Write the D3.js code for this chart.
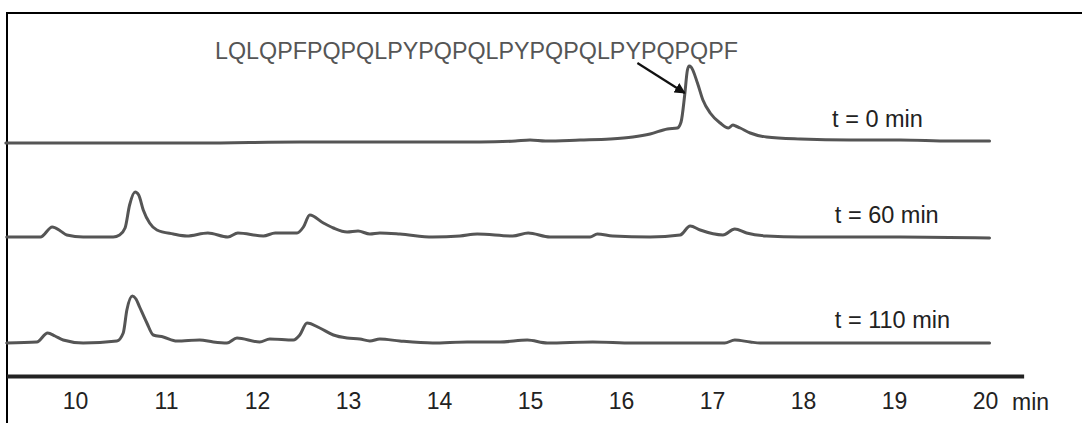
<!DOCTYPE html>
<html>
<head>
<meta charset="utf-8">
<script src="https://cdn.jsdelivr.net/npm/d3@7"></script>
<style>
  html, body { margin: 0; padding: 0; background: #fff; }
  svg { display: block; }
  text { font-family: "Liberation Sans", Arial, sans-serif; }
</style>
</head>
<body>
<svg id="chart" width="1082" height="423"></svg>
<script>
// HPLC chromatograms of the 33-mer peptide at three digestion times.
// Retention time in minutes, detector signal in arbitrary units above baseline.

const tickValues = [10, 11, 12, 13, 14, 15, 16, 17, 18, 19, 20];
const axisUnit = "min";
const peptide = "LQLQPFPQPQLPYPQPQLPYPQPQLPYPQPQPF";
const traceLabels = ["t = 0 min", "t = 60 min", "t = 110 min"];

const time0 = [9.24, 10.28, 11.37, 12.47, 13.57, 14.45, 14.84, 15.00, 15.17, 15.55, 15.88,
  16.13, 16.32, 16.51, 16.62, 16.66, 16.70, 16.73, 16.75, 16.77, 16.84, 16.90, 16.98,
  17.09, 17.18, 17.23, 17.26, 17.31, 17.42, 17.60, 17.97, 18.52, 19.07, 19.62, 20.05];
const signal0 = [0, 0, 0, 1, 1, 1, 2, 3, 2, 3, 4,
  6, 9, 14, 15, 21, 48, 73, 77, 76, 60, 43, 30,
  20, 15, 18, 17, 15, 10, 6, 4, 3, 3, 2, 2];

const time60 = [9.25, 9.62, 9.75, 9.84, 9.91, 10.09, 10.42, 10.49, 10.55, 10.60, 10.66, 10.70,
  10.75, 10.82, 10.90, 11.08, 11.23, 11.46, 11.68, 11.79, 12.07, 12.20, 12.44, 12.51, 12.58,
  12.73, 12.84, 12.99, 13.11, 13.24, 13.35, 13.57, 13.93, 14.23, 14.42, 14.81, 14.98, 15.22,
  15.66, 15.74, 15.91, 16.32, 16.65, 16.76, 16.87, 17.12, 17.25, 17.38, 17.60, 17.97, 19.07, 20.05];
const signal60 = [0, 0, 10, 6, 2, 0, 0, 2, 9, 32, 45, 42,
  27, 14, 7, 3, 1, 4, 0, 4, 1, 4, 4, 10, 22,
  14, 9, 5, 6, 3, 4, 3, 0, 1, 3, 1, 4, 0,
  0, 3, 1, 0, 2, 11, 7, 2, 8, 4, 1, 0, 0, -1];

const time110 = [9.25, 9.58, 9.70, 9.78, 9.87, 10.09, 10.46, 10.53, 10.57, 10.63, 10.67, 10.71,
  10.79, 10.86, 10.97, 11.12, 11.37, 11.52, 11.67, 11.78, 12.03, 12.14, 12.40, 12.47, 12.55,
  12.69, 12.84, 12.99, 13.13, 13.24, 13.35, 13.57, 13.93, 14.31, 14.67, 14.97, 15.19, 15.69,
  16.13, 16.87, 17.14, 17.25, 17.42, 17.53, 20.05];
const signal110 = [0, 1, 10, 7, 3, 0, 2, 10, 33, 47, 44, 36,
  20, 8, 6, 2, 3, 1, 0, 5, 1, 4, 3, 8, 20,
  15, 8, 5, 4, 2, 4, 2, 0, 1, 1, 3, 0, 1,
  0, 0, 0, 3, 1, 0, 0];

const traces = [
  { label: traceLabels[0], t: time0, s: signal0, offset: 233, labelAt: 18.32, labelY: 16 },
  { label: traceLabels[1], t: time60, s: signal60, offset: 139, labelAt: 18.35, labelY: 14 },
  { label: traceLabels[2], t: time110, s: signal110, offset: 33, labelAt: 18.35, labelY: 15 }
];

const svg = d3.select("#chart");

const x = d3.scaleLinear().domain([10, 20]).range([75, 985]);
const y = d3.scaleLinear().domain([0, 350]).range([376, 26]);

// Frame
svg.append("rect")
  .attr("x", 7).attr("y", 13)
  .attr("width", 1100).attr("height", 440)
  .attr("fill", "none").attr("stroke", "#000").attr("stroke-width", 2);

// Chromatogram traces
const line = d3.line()
  .x(d => x(d[0]))
  .y(d => y(d[1]))
  .curve(d3.curveMonotoneX);

traces.forEach(tr => {
  const pts = tr.t.map((t, i) => [t, tr.s[i] + tr.offset]);
  svg.append("path")
    .attr("d", line(pts))
    .attr("fill", "none")
    .attr("stroke", "#555")
    .attr("stroke-width", 3)
    .attr("stroke-linejoin", "round")
    .attr("stroke-linecap", "round");

  svg.append("text")
    .attr("x", x(tr.labelAt))
    .attr("y", y(tr.offset + tr.labelY))
    .attr("font-size", 23.5)
    .attr("fill", "#222")
    .text(tr.label);
});

// Peptide annotation with arrow to the intact peak
svg.append("defs").append("marker")
  .attr("id", "head")
  .attr("viewBox", "0 0 10 10")
  .attr("refX", 9).attr("refY", 5)
  .attr("markerWidth", 5).attr("markerHeight", 5)
  .attr("orient", "auto")
  .append("path").attr("d", "M0,0 L10,5 L0,10 Z").attr("fill", "#111");

svg.append("text")
  .attr("x", 215).attr("y", 59)
  .attr("font-size", 23)
  .attr("fill", "#555")
  .attr("textLength", 523)
  .attr("lengthAdjust", "spacingAndGlyphs")
  .text(peptide);

svg.append("line")
  .attr("x1", x(16.18)).attr("y1", y(313))
  .attr("x2", x(16.70)).attr("y2", y(283))
  .attr("stroke", "#111").attr("stroke-width", 2.2)
  .attr("marker-end", "url(#head)");

// Time axis
svg.append("line")
  .attr("x1", 7).attr("x2", x(20.43))
  .attr("y1", y(-0.5)).attr("y2", y(-0.5))
  .attr("stroke", "#222").attr("stroke-width", 4);

const axis = d3.axisBottom(x).tickValues(tickValues).tickSize(0).tickPadding(0).tickFormat(d3.format("d"));
const ax = svg.append("g").attr("transform", "translate(0,393)").call(axis);
ax.select(".domain").remove();
ax.selectAll("text")
  .attr("font-size", 23)
  .attr("fill", "#222")
  .attr("dy", "0.71em")
  .style("font-family", "'Liberation Sans', Arial, sans-serif");

svg.append("text")
  .attr("x", x(20) + 27).attr("y", 410)
  .attr("font-size", 23)
  .attr("fill", "#222")
  .text(axisUnit);
</script>
</body>
</html>
